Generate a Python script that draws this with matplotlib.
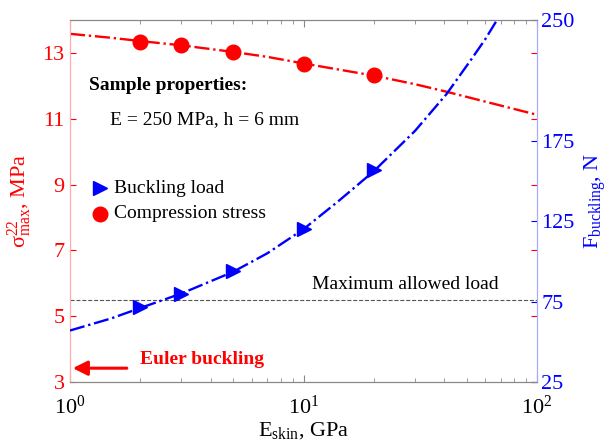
import numpy as np
import matplotlib
matplotlib.use("Agg")
import matplotlib.pyplot as plt

plt.rcParams["font.family"] = ["Liberation Serif", "DejaVu Serif"]
plt.rcParams["mathtext.fontset"] = "custom"
plt.rcParams["mathtext.rm"] = "Liberation Serif"
plt.rcParams["mathtext.it"] = "Liberation Serif"

# measured points
e_meas = [2, 3, 5, 10, 20]
stress_meas = [13.33, 13.24, 13.03, 12.67, 12.33]
load_meas = [71.6, 79.7, 94.0, 120.0, 156.8]

# model curves
e_stress_fit = [1, 1.5, 2, 3, 5, 7, 10, 14, 20, 30, 41, 60, 100]
stress_fit = [13.58, 13.46, 13.36, 13.23, 13.03, 12.88, 12.68, 12.50, 12.31,
              12.05, 11.82, 11.52, 11.12]
e_load_fit = [1, 1.5, 2, 3, 5, 7, 10, 14, 20, 30, 41, 52, 60, 67.4, 75]
load_fit = [57, 64.5, 71, 80, 93.5, 105, 120, 137, 156, 181, 204, 225, 238,
            250, 263]

max_load = 76
euler_level = 3.42

red = "#ff0000"
blue = "#0000ff"

fig = plt.figure(figsize=(6.13, 4.41), dpi=100)
ax = fig.add_axes([70 / 613, 1 - 382 / 441, 467 / 613, 362 / 441])
ax2 = ax.twinx()

ax.set_xscale("log")
ax.set_xlim(1, 100)
ax.set_ylim(3, 14)
ax2.set_ylim(25, 250)

ax.plot(e_stress_fit, stress_fit, color=red, ls="-.", lw=1.7, zorder=3)
ax.plot(e_meas, stress_meas, "o", color=red, ms=10.5, zorder=4)
ax2.plot(e_load_fit, load_fit, color=blue, ls="-.", lw=1.7, zorder=3)
ax2.plot(e_meas, load_meas, ">", color=blue, ms=10.5, zorder=4)
ax2.axhline(max_load, color="#555555", ls="--", lw=0.8)

# spines
for a in (ax, ax2):
    a.spines["top"].set_color("#888888")
    a.spines["bottom"].set_color("#888888")
    a.spines["left"].set_color("#ffaaaa")
    a.spines["right"].set_color("#aaaaff")

ax.set_yticks([3, 5, 7, 9, 11, 13])
ax.tick_params(axis="y", colors=red, labelsize=16, direction="in", length=4,
               right=True, labelright=False, pad=4)
ax.tick_params(axis="x", colors="#888888", labelcolor="black", labelsize=16,
               direction="in", top=True, which="both", pad=10)
ax.tick_params(axis="x", which="minor", length=3)
ax.tick_params(axis="x", which="major", length=5)
ax2.set_yticks([25, 75, 125, 175, 250])
ax2.tick_params(axis="y", colors=blue, labelsize=16, direction="in", length=4,
                pad=3)

ax.set_xlabel(r"E$_{\mathrm{skin}}$, GPa", fontsize=16, labelpad=1)
ax.set_ylabel(r"$\mathrm{\sigma}^{22}_{\mathrm{max}}$, MPa", fontsize=16,
              color=red, labelpad=6)
ax2.set_ylabel(r"F$_{\mathrm{buckling}}$, N", fontsize=16, color=blue,
               rotation=90, labelpad=6)

ax.text(0.04, 0.82, "Sample properties:", transform=ax.transAxes,
        fontsize=14, fontweight="bold", va="center")
ax.text(0.085, 0.725, "E = 250 MPa, h = 6 mm", transform=ax.transAxes,
        fontsize=14, va="center")
ax.text(0.717, 0.27, "Maximum allowed load", transform=ax.transAxes,
        fontsize=14, ha="center", va="center")

# legend drawn as markers + text
ax.plot([0.065], [0.535], ">", color=blue, ms=10.5, transform=ax.transAxes,
        clip_on=False)
ax.text(0.095, 0.535, "Buckling load", transform=ax.transAxes, fontsize=14,
        va="center")
ax.plot([0.065], [0.465], "o", color=red, ms=10.5, transform=ax.transAxes,
        clip_on=False)
ax.text(0.095, 0.465, "Compression stress", transform=ax.transAxes,
        fontsize=14, va="center")

ax.annotate("", xy=(1.0, euler_level), xytext=(1.8, euler_level),
            arrowprops=dict(arrowstyle="-|>", color=red, lw=2.2,
                            mutation_scale=22))
ax.text(2.0, euler_level + 0.25, "Euler buckling", color=red, fontsize=14,
        fontweight="bold", va="center")

fig.savefig("out.png", dpi=100)
